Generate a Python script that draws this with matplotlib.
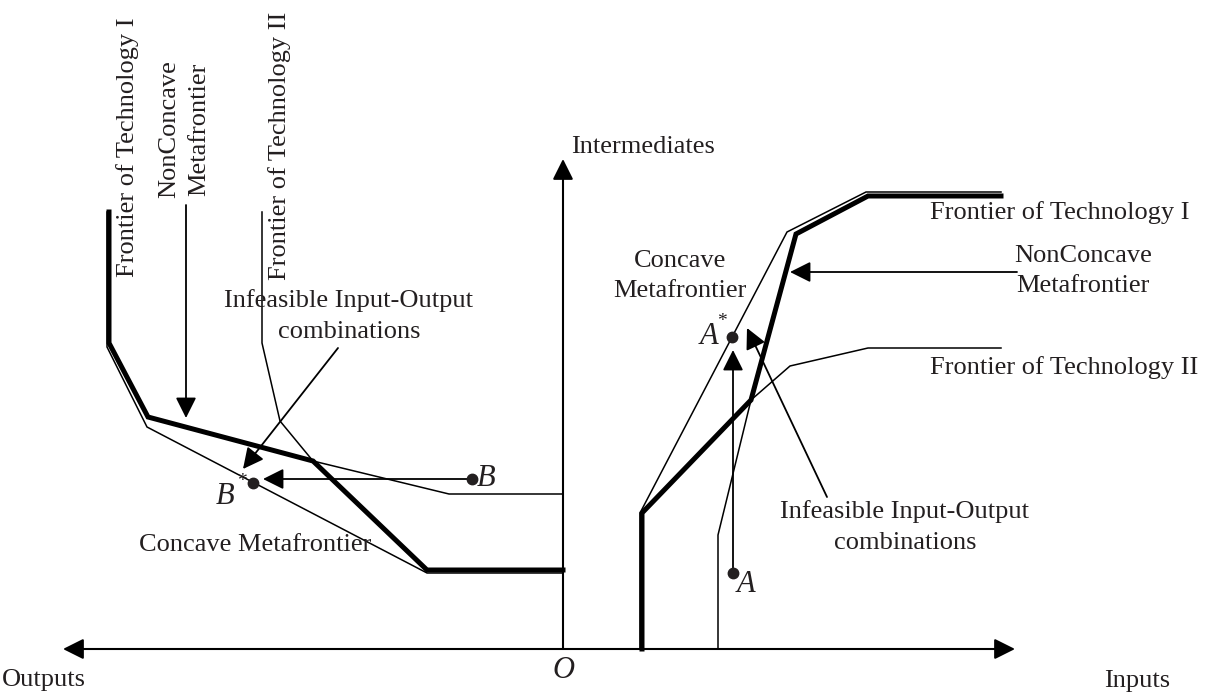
import matplotlib.pyplot as plt

# Diagram drawn in pixel coordinates of the original figure (y grows downwards)
W, H = 1219, 693

# Axes
origin = (563, 649)
x_axis_left, x_axis_right = 63, 1015
y_axis_top = 159

# Left quadrant (outputs)
left_front1_x = [110, 110, 148, 313, 449, 563]
left_front1_y = [212, 343, 417, 461, 494, 494]
left_front2_x = [262, 262, 280, 313, 427, 563]
left_front2_y = [212, 343, 421, 461, 570, 570]
left_concave_x = [107, 107, 147, 427, 563]
left_concave_y = [212, 347, 427, 573, 573]
left_nonconcave_x = [109, 109, 148, 313, 427, 563]
left_nonconcave_y = [212, 343, 417, 461, 570, 570]

# Right quadrant (inputs)
right_front1_x = [718, 718, 751, 796, 868, 1001]
right_front1_y = [649, 535, 400, 234, 195, 195]
right_front2_x = [641, 641, 751, 790, 868, 1001]
right_front2_y = [649, 513, 400, 366, 348, 348]
right_concave_x = [640, 640, 787, 866, 1001]
right_concave_y = [649, 513, 232, 192, 192]
right_nonconcave_x = [642, 642, 751, 796, 868, 1001]
right_nonconcave_y = [649, 513, 400, 234, 196, 196]

# Points
pt_names = ["A", "A*", "B", "B*"]
pt_x = [733, 732, 472, 253]
pt_y = [573, 337, 479, 483]

# Pointer arrows (tail x, tail y, head x, head y)
arrows = [
    (733, 573, 733, 350),    # A -> A*
    (472, 479, 263, 479),    # B -> B*
    (186, 205, 186, 418),    # left NonConcave label
    (338, 348, 243, 469),    # left infeasible label
    (1017, 272, 790, 272),   # right NonConcave label
    (827, 497, 747, 328),    # right infeasible label
]

plt.rcParams["font.family"] = ["Liberation Serif", "DejaVu Serif"]
FS = 19
TXT = "#231f20"

fig = plt.figure(figsize=(W / 100, H / 100), dpi=100)
ax = fig.add_axes([0, 0, 1, 1])
ax.set_xlim(0, W)
ax.set_ylim(H, 0)
ax.axis("off")


def arrow(x0, y0, x1, y1, lw=1.3):
    ax.annotate("", xy=(x1, y1), xytext=(x0, y0),
                arrowprops=dict(arrowstyle="-|>,head_length=0.9,head_width=0.45",
                                lw=lw, color="black", shrinkA=0, shrinkB=0,
                                mutation_scale=14))


# 1. Axes
ax.annotate("", xy=(x_axis_left, origin[1]), xytext=(x_axis_right, origin[1]),
            arrowprops=dict(arrowstyle="<|-|>,head_length=0.9,head_width=0.45",
                            lw=1.5, color="black", shrinkA=0, shrinkB=0,
                            mutation_scale=14))
arrow(origin[0], origin[1], origin[0], y_axis_top, lw=1.5)

# 2. Frontiers
thin = dict(color="black", lw=1.1, solid_joinstyle="miter")
thick = dict(color="black", lw=3.6, solid_joinstyle="miter")
ax.plot(left_front1_x, left_front1_y, **thin)
ax.plot(left_front2_x, left_front2_y, **thin)
ax.plot(left_concave_x, left_concave_y, **thin)
ax.plot(left_nonconcave_x, left_nonconcave_y, **thick)
ax.plot(right_front1_x, right_front1_y, **thin)
ax.plot(right_front2_x, right_front2_y, **thin)
ax.plot(right_concave_x, right_concave_y, **thin)
ax.plot(right_nonconcave_x, right_nonconcave_y, **thick)

# 3. Arrows and points
for a in arrows:
    arrow(*a)
ax.plot(pt_x, pt_y, "o", color=TXT, ms=7.5, zorder=5)

# 4. Labels
it = dict(fontsize=22, style="italic", color=TXT)
ax.text(700, 337, "A", ha="left", va="center", **it)
ax.text(722, 321, "*", ha="center", va="center", fontsize=14, color=TXT)
ax.text(737, 584, "A", ha="left", va="center", **it)
ax.text(477, 478, "B", ha="left", va="center", **it)
ax.text(216, 497, "B", ha="left", va="center", **it)
ax.text(242, 482, "*", ha="center", va="center", fontsize=14, color=TXT)
ax.text(563, 670, "O", ha="center", va="center", **it)

tx = dict(fontsize=FS, color=TXT, linespacing=1.5)
ax.text(571, 147, "Intermediates", ha="left", va="center", **tx)
ax.text(44, 680, "Outputs", ha="center", va="center", **tx)
ax.text(1137, 681, "Inputs", ha="center", va="center", **tx)

ax.text(128, 277, "Frontier of Technology I", rotation=90, ha="center", va="bottom", **tx)
ax.text(184, 198, "NonConcave\nMetafrontier", rotation=90, ha="center", va="bottom",
        multialignment="center", **tx)
ax.text(280, 280, "Frontier of Technology II", rotation=90, ha="center", va="bottom", **tx)
ax.text(349, 316, "Infeasible Input-Output\ncombinations", ha="center", va="center",
        multialignment="center", **tx)
ax.text(255, 545, "Concave Metafrontier", ha="center", va="center", **tx)

ax.text(930, 213, "Frontier of Technology I", ha="left", va="center", **tx)
ax.text(1083, 271, "NonConcave\nMetafrontier", ha="center", va="center",
        multialignment="center", **tx)
ax.text(930, 368, "Frontier of Technology II", ha="left", va="center", **tx)
ax.text(680, 276, "Concave\nMetafrontier", ha="center", va="center",
        multialignment="center", **tx)
ax.text(905, 527, "Infeasible Input-Output\ncombinations", ha="center", va="center",
        multialignment="center", **tx)

fig.savefig("out.png", dpi=100)
